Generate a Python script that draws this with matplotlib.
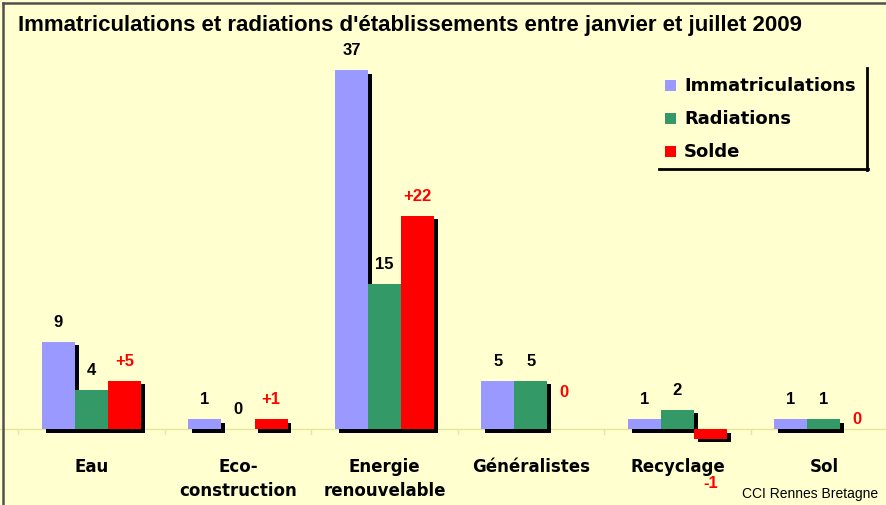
import matplotlib
matplotlib.use("Agg")
import matplotlib.pyplot as plt
from matplotlib.patches import Rectangle
from matplotlib.lines import Line2D
import numpy as np

categories = ["Eau", "Eco-\nconstruction", "Energie\nrenouvelable", "Généralistes", "Recyclage", "Sol"]
series_names = ["Immatriculations", "Radiations", "Solde"]
immatriculations = [9, 1, 37, 5, 1, 1]
radiations = [4, 0, 15, 5, 2, 1]
solde = [5, 1, 22, 0, -1, 0]
title = "Immatriculations et radiations d'établissements entre janvier et juillet 2009"
source = "CCI Rennes Bretagne"

colors = ["#9999FF", "#339966", "#FF0000"]
bg = "#FFFFD0"

W, H = 887, 505
fig = plt.figure(figsize=(W / 100, H / 100), dpi=100, facecolor=bg)
ax = fig.add_axes([0, 0, 1, 1])
ax.set_facecolor(bg)
for s in ax.spines.values():
    s.set_visible(False)
ax.set_xticks([])
ax.set_yticks([])

# pixel mapping
x0px, step = 91.5, 146.5
zero_px, ppu = 429.0, 9.70
ax.set_xlim(-x0px / step, (W - x0px) / step)
ax.set_ylim(-(H - zero_px) / ppu, zero_px / ppu)

bw = 33 / step
dx = 4 / step
dy = -3.5 / ppu
n = len(categories)
xs = np.arange(n)
series = [immatriculations, radiations, solde]
offsets = [-bw, 0, bw]

# zero axis line and ticks
ax.axhline(0, color="#E6E69A", lw=1.0, zorder=1)
for b in np.arange(n + 1) - 0.5:
    ax.plot([b, b], [0, -0.5], color="#E6E69A", lw=1.0, zorder=1)

# shadows
for vals, off in zip(series, offsets):
    for x, v in zip(xs, vals):
        if v != 0:
            ax.add_patch(Rectangle((x + off - bw / 2 + dx, dy), bw, v, color="black", lw=0, zorder=2))
# bars
for vals, off, c in zip(series, offsets, colors):
    ax.bar(xs + off, vals, width=bw, color=c, lw=0, zorder=3)

# value labels
lab_off = 14  # points
for k, (vals, off) in enumerate(zip(series, offsets)):
    for i, (x, v) in enumerate(zip(xs, vals)):
        if k < 2:
            txt, col = str(v), "black"
        else:
            txt = ("+%d" % v) if v > 0 else str(v)
            col = "#FF0000"
        xo, yo = 0, lab_off
        if v < 0:
            yo = -32
        if k == 2 and v == 0:
            if i == 3:
                xo, yo = 0, 26
            else:
                xo, yo = 0, 7
        ax.annotate(txt, (x + off, v), xytext=(xo, yo), textcoords="offset points",
                    ha="center", va="center", fontsize=12, fontweight="bold",
                    color=col, family=["Liberation Sans", "DejaVu Sans"], zorder=5)

# category labels
for x, c in zip(xs, categories):
    ax.text(x, -(458 - zero_px) / ppu, c, ha="center", va="top", fontsize=12,
            fontweight="bold", linespacing=1.45, zorder=5,
            transform=ax.transData)

# title
fig.text(18 / W, 1 - 25 / H, title, ha="left", va="center", fontsize=16,
         fontweight="bold", family=["Liberation Sans", "DejaVu Sans"])

# legend (manual)
leg_rows = [86, 119, 152]
for name, c, py in zip(series_names, colors, leg_rows):
    fig.patches.append(Rectangle((665 / W, 1 - (py + 5) / H), 11 / W, 11 / H,
                                 transform=fig.transFigure, color=c, lw=0))
    fig.text(684 / W, 1 - py / H, name, ha="left", va="center", fontsize=13,
             fontweight="bold")
fig.lines.append(Line2D([867 / W, 867 / W], [1 - 68 / H, 1 - 170 / H], color="black", lw=2,
                        transform=fig.transFigure))
fig.lines.append(Line2D([659 / W, 868 / W], [1 - 169 / H, 1 - 169 / H], color="black", lw=2,
                        transform=fig.transFigure))

# source
fig.text(878 / W, 1 - 494 / H, source, ha="right", va="center", fontsize=10,
         family=["Liberation Sans", "DejaVu Sans"])

# border (left and top only)
fig.lines.append(Line2D([3 / W, 3 / W], [0, 1 - 3 / H], color="#505050", lw=1.8, transform=fig.transFigure))
fig.lines.append(Line2D([3 / W, 1], [1 - 3 / H, 1 - 3 / H], color="#505050", lw=1.8, transform=fig.transFigure))

fig.savefig("out.png", dpi=100, facecolor=bg)
